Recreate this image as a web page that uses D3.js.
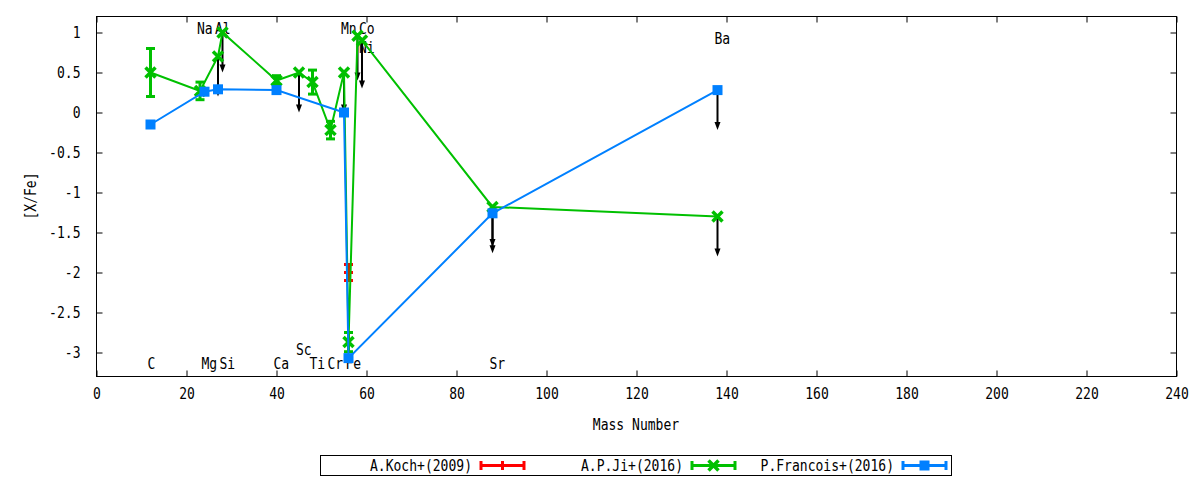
<!DOCTYPE html>
<html><head><meta charset="utf-8">
<script src="https://cdn.jsdelivr.net/npm/d3@7"></script>
<style>
body{margin:0;background:#fff}
svg{display:block}
text{font-family:"DejaVu Sans Mono",monospace;font-size:13px;fill:#000}
</style>
</head><body>
<svg id="chart" width="1200" height="480"></svg>
<script>
// ---------- data ----------
const xTicks = [0,20,40,60,80,100,120,140,160,180,200,220,240];
const yTicks = [-3,-2.5,-2,-1.5,-1,-0.5,0,0.5,1];

const kochMass = [56];
const kochVal  = [-2.0];
const kochErr  = [0.1];

const jiMass = [12,23,27,28,40,45,48,52,55,56,58,59,88,138];
const jiVal  = [0.5,0.27,0.7,1.0,0.4,0.5,0.38,-0.22,0.5,-2.87,0.96,0.9,-1.18,-1.3];
const jiErr  = [0.3,0.11,0,0,0.06,0,0.15,0.11,0,0.12,0,0,0,0];

const frMass = [12,24,27,40,55,56,88,138];
const frVal  = [-0.15,0.26,0.29,0.28,0.0,-3.07,-1.26,0.28];

// upper-limit arrows
const limMass = [27,28,45,55,58,59,88,88,138,138];
const limFrom = [0.7,1.0,0.5,0.5,0.96,0.9,-1.18,-1.26,-1.3,0.28];
const limTo   = [0.2,0.5,0.0,0.0,0.4,0.3,-1.68,-1.76,-1.8,-0.22];

// element labels
const labelText = ["C","Na","Mg","Al","Si","Ca","Sc","Ti","Cr","Mn","Fe","Ni","Co","Sr","Ba"];
const labelMass = [12,23,24,27,28,40,45,48,52,55,56,59,59,88,138];
const labelVal  = [-3.14,1.05,-3.14,1.05,-3.14,-3.14,-2.96,-3.14,-3.14,1.05,-3.14,0.81,1.05,-3.14,0.93];

const seriesNames = ["A.Koch+(2009)","A.P.Ji+(2016)","P.Francois+(2016)"];
const seriesColors = ["#ff0000","#00c000","#0080ff"];

// ---------- chart ----------
const svg = d3.select("#chart");
const x = d3.scaleLinear().domain([0,240]).range([96.5,1176.5]);
const y = d3.scaleLinear().domain([-3.3,1.2]).range([376.5,16.5]);
const L = 96.5, R = 1176.5, T = 16.5, B = 376.5, TK = 6;

// frame
svg.append("rect").attr("x",L).attr("y",T).attr("width",R-L).attr("height",B-T)
  .attr("fill","none").attr("stroke","#000").attr("stroke-width",1);

// axes with ticks (inward, mirrored)
const gxB = svg.append("g").attr("transform",`translate(0,${B})`)
  .call(d3.axisBottom(x).tickValues(xTicks).tickSizeInner(-TK).tickSizeOuter(0).tickPadding(12).tickFormat(d=>String(d)));
const gxT = svg.append("g").attr("transform",`translate(0,${T})`)
  .call(d3.axisTop(x).tickValues(xTicks).tickSizeInner(-TK).tickSizeOuter(0).tickFormat(""));
const gyL = svg.append("g").attr("transform",`translate(${L},0)`)
  .call(d3.axisLeft(y).tickValues(yTicks).tickSizeInner(-TK).tickSizeOuter(0).tickPadding(16).tickFormat(d=>String(d)));
const gyR = svg.append("g").attr("transform",`translate(${R},0)`)
  .call(d3.axisRight(y).tickValues(yTicks).tickSizeInner(-TK).tickSizeOuter(0).tickFormat(""));
[gxB,gxT,gyL,gyR].forEach(g=>{
  g.select(".domain").remove();
  g.selectAll("line").attr("stroke","#000");
  g.selectAll("text").attr("font-family","DejaVu Sans Mono").attr("fill","#000");
});
gxB.selectAll("text").attr("dy","0.71em");

// axis titles
svg.append("text").attr("x",636).attr("y",430).attr("text-anchor","middle").text("Mass Number");
svg.append("text").attr("transform","translate(36,196) rotate(-90)").attr("text-anchor","middle").text("[X/Fe]");

// element labels
svg.append("g").selectAll("text").data(labelText).join("text")
  .attr("x",(d,i)=>x(labelMass[i])-3).attr("y",(d,i)=>y(labelVal[i])).attr("dy","0.36em")
  .attr("text-anchor","start").text(d=>d);

// arrows (behind)
const ga = svg.append("g");
limMass.forEach((m,i)=>{
  const xp = x(m), y0 = y(limFrom[i]), y1 = y(limTo[i]);
  ga.append("line").attr("x1",xp).attr("x2",xp).attr("y1",y0).attr("y2",y1-4)
    .attr("stroke","#000").attr("stroke-width",2);
  ga.append("path").attr("d",`M${xp},${y1} L${xp-3},${y1-8} L${xp+3},${y1-8} Z`).attr("fill","#000");
});

const line = d3.line().x(d=>x(d[0])).y(d=>y(d[1]));

function errorBars(g, mass, val, err, color){
  mass.forEach((m,i)=>{
    if(!err[i]) return;
    const xp=x(m), yt=y(val[i]+err[i]), yb=y(val[i]-err[i]);
    g.append("line").attr("x1",xp).attr("x2",xp).attr("y1",yt).attr("y2",yb).attr("stroke",color).attr("stroke-width",3);
    [yt,yb].forEach(yy=>g.append("line").attr("x1",xp-4.5).attr("x2",xp+4.5).attr("y1",yy).attr("y2",yy).attr("stroke",color).attr("stroke-width",3));
  });
}
function plus(g,cx,cy,color){
  g.append("line").attr("x1",cx-4.5).attr("x2",cx+4.5).attr("y1",cy).attr("y2",cy).attr("stroke",color).attr("stroke-width",3);
  g.append("line").attr("x1",cx).attr("x2",cx).attr("y1",cy-4.5).attr("y2",cy+4.5).attr("stroke",color).attr("stroke-width",3);
}
function cross(g,cx,cy,color){
  g.append("path").attr("d",`M${cx-5},${cy-5}L${cx+5},${cy+5}M${cx-5},${cy+5}L${cx+5},${cy-5}`)
    .attr("stroke",color).attr("stroke-width",3.5).attr("fill","none");
}
function square(g,cx,cy,color){
  g.append("rect").attr("x",cx-5).attr("y",cy-5).attr("width",10).attr("height",10).attr("fill",color);
}

// Koch (red)
const gk = svg.append("g");
errorBars(gk,kochMass,kochVal,kochErr,seriesColors[0]);
kochMass.forEach((m,i)=>plus(gk,x(m),y(kochVal[i]),seriesColors[0]));

// Ji (green)
const gj = svg.append("g");
gj.append("path").attr("d",line(jiMass.map((m,i)=>[m,jiVal[i]]))).attr("fill","none")
  .attr("stroke",seriesColors[1]).attr("stroke-width",2);
errorBars(gj,jiMass,jiVal,jiErr,seriesColors[1]);
jiMass.forEach((m,i)=>cross(gj,x(m),y(jiVal[i]),seriesColors[1]));

// Francois (blue)
const gf = svg.append("g");
gf.append("path").attr("d",line(frMass.map((m,i)=>[m,frVal[i]]))).attr("fill","none")
  .attr("stroke",seriesColors[2]).attr("stroke-width",2);
frMass.forEach((m,i)=>square(gf,x(m),y(frVal[i]),seriesColors[2]));

// legend
const lg = svg.append("g");
lg.append("rect").attr("x",320.5).attr("y",455.5).attr("width",631).attr("height",20)
  .attr("fill","#fff").attr("stroke","#000").attr("stroke-width",1);
const markers=[plus,cross,square];
seriesNames.forEach((n,i)=>{
  const tx = 472 + i*211, ly = 465.5, x0 = tx+9, x1 = tx+52;
  lg.append("text").attr("x",tx).attr("y",ly).attr("dy","0.36em").attr("text-anchor","end").text(n);
  lg.append("line").attr("x1",x0).attr("x2",x1).attr("y1",ly).attr("y2",ly).attr("stroke",seriesColors[i]).attr("stroke-width",3);
  [x0,x1].forEach(xx=>lg.append("line").attr("x1",xx).attr("x2",xx).attr("y1",ly-4.5).attr("y2",ly+4.5).attr("stroke",seriesColors[i]).attr("stroke-width",3));
  markers[i](lg,(x0+x1)/2,ly,seriesColors[i]);
});

// condensed, taller glyphs like the reference
svg.selectAll("text").each(function(){
  const t = d3.select(this), s = t.text();
  if(!s) return;
  t.attr("font-size",15).style("font-size","15px")
   .attr("textLength", (s.length*7.85).toFixed(2)).attr("lengthAdjust","spacingAndGlyphs");
});
</script>
</body></html>
